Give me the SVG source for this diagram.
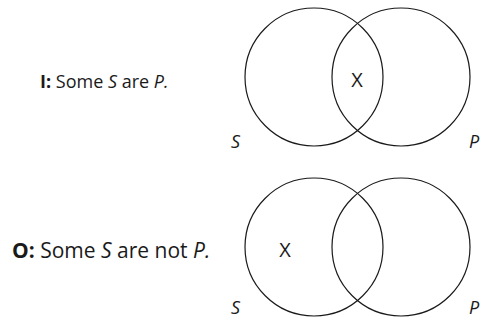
<svg xmlns="http://www.w3.org/2000/svg" width="483" height="320" viewBox="0 0 483 320">
<style>
text{font-family:"Open Sans","Noto Sans",sans-serif;font-size:18px;fill:#1a1a1a}
.c{fill:none;stroke:#1a1a1a;stroke-width:1.2}
.b{font-weight:bold}
.i{font-style:italic}
.x{font-size:20px}
.l{font-size:18px;font-style:italic}
.big{font-size:21px}
</style>
<rect width="483" height="320" fill="#fff"/>
<g id="I">
<text x="40" y="88"><tspan class="b">I:</tspan> Some <tspan class="i">S</tspan> are <tspan class="i">P.</tspan></text>
<circle class="c" cx="314" cy="77" r="69"/>
<circle class="c" cx="401" cy="77" r="69"/>
<text class="x" x="357" y="87" text-anchor="middle">X</text>
<text class="l" x="231" y="148">S</text>
<text class="l" x="469" y="148">P</text>
</g>
<g id="O">
<text class="big" x="12" y="258"><tspan class="b">O:</tspan> Some <tspan class="i">S</tspan> are not <tspan class="i">P.</tspan></text>
<circle class="c" cx="314" cy="247" r="69"/>
<circle class="c" cx="401" cy="247" r="69"/>
<text class="x" x="285" y="257" text-anchor="middle">X</text>
<text class="l" x="231" y="314">S</text>
<text class="l" x="469" y="314">P</text>
</g>
</svg>
